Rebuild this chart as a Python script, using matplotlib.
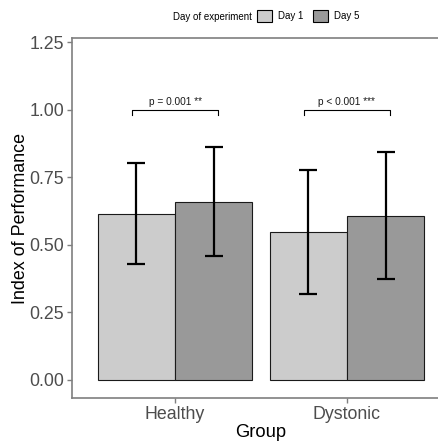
import matplotlib
matplotlib.use("Agg")
import matplotlib.pyplot as plt
from matplotlib.patches import Patch
import numpy as np

plt.rcParams['font.family'] = ['Liberation Sans', 'DejaVu Sans']

groups = ["Healthy", "Dystonic"]
days = ["Day 1", "Day 5"]
means = {"Day 1": [0.615, 0.548], "Day 5": [0.658, 0.608]}
err_low = {"Day 1": [0.428, 0.319], "Day 5": [0.457, 0.375]}
err_high = {"Day 1": [0.804, 0.778], "Day 5": [0.862, 0.843]}
colors = {"Day 1": "#CCCCCC", "Day 5": "#999999"}
sig_labels = ["p = 0.001 **", "p < 0.001 ***"]
sig_y = 1.0
y_ticks = [0.00, 0.25, 0.50, 0.75, 1.00, 1.25]

W, H = 439, 441
fig = plt.figure(figsize=(W / 100, H / 100), dpi=100)
left, right, top, bottom = 72, 450, 38, 398
ax = fig.add_axes([left / W, 1 - bottom / H, (right - left) / W, (bottom - top) / H])

x = np.arange(1, len(groups) + 1)
bw = 0.45
offsets = {"Day 1": -bw / 2, "Day 5": bw / 2}
for d in days:
    xs = x + offsets[d]
    m = np.array(means[d])
    ax.bar(xs, m, width=bw, color=colors[d], edgecolor="#1a1a1a", linewidth=0.8, zorder=2)
    lo = m - np.array(err_low[d])
    hi = np.array(err_high[d]) - m
    ax.errorbar(xs, m, yerr=[lo, hi], fmt="none", ecolor="black", elinewidth=1.6,
                capsize=6.2, capthick=1.6, zorder=3)

# significance brackets
for i, lab in enumerate(sig_labels):
    x0, x1 = x[i] - 0.25, x[i] + 0.25
    ax.plot([x0, x0, x1, x1], [sig_y - 0.018, sig_y, sig_y, sig_y - 0.018],
            color="black", linewidth=0.8, zorder=3, clip_on=False)
    ax.text(x[i], sig_y + 0.01, lab, ha="center", va="bottom", fontsize=7.3, color="#1a1a1a")

ax.set_xlim(0.4, 2.6)
ax.set_ylim(-0.0666, 1.265)
ax.set_xticks(x)
ax.set_xticklabels(groups)
ax.set_yticks(y_ticks)
ax.set_yticklabels([f"{v:.2f}" for v in y_ticks])
ax.tick_params(axis="both", labelsize=12.8, colors="#7F7F7F", labelcolor="#4D4D4D",
               width=1.0, length=3.5, pad=2)
for s in ["top", "left", "bottom", "right"]:
    ax.spines[s].set_color("#7F7F7F")
    ax.spines[s].set_linewidth(1.2)
ax.set_xlabel("Group", fontsize=13.2, labelpad=1)
ax.set_ylabel("Index of Performance", fontsize=12.9, labelpad=0.5)

# legend
fig.text(173 / W, 1 - 17 / H, "Day of experiment", fontsize=7, ha="left", va="center")
handles = [Patch(facecolor=colors[d], edgecolor="black", linewidth=0.8) for d in days]
fig.legend(handles, days, loc="center left", bbox_to_anchor=(257 / W, 1 - 16 / H),
           ncol=2, frameon=False, fontsize=7, handlelength=1.54, handleheight=1.44,
           handletextpad=0.59, columnspacing=1.0, borderpad=0, borderaxespad=0)

fig.savefig("out.png", dpi=100)
